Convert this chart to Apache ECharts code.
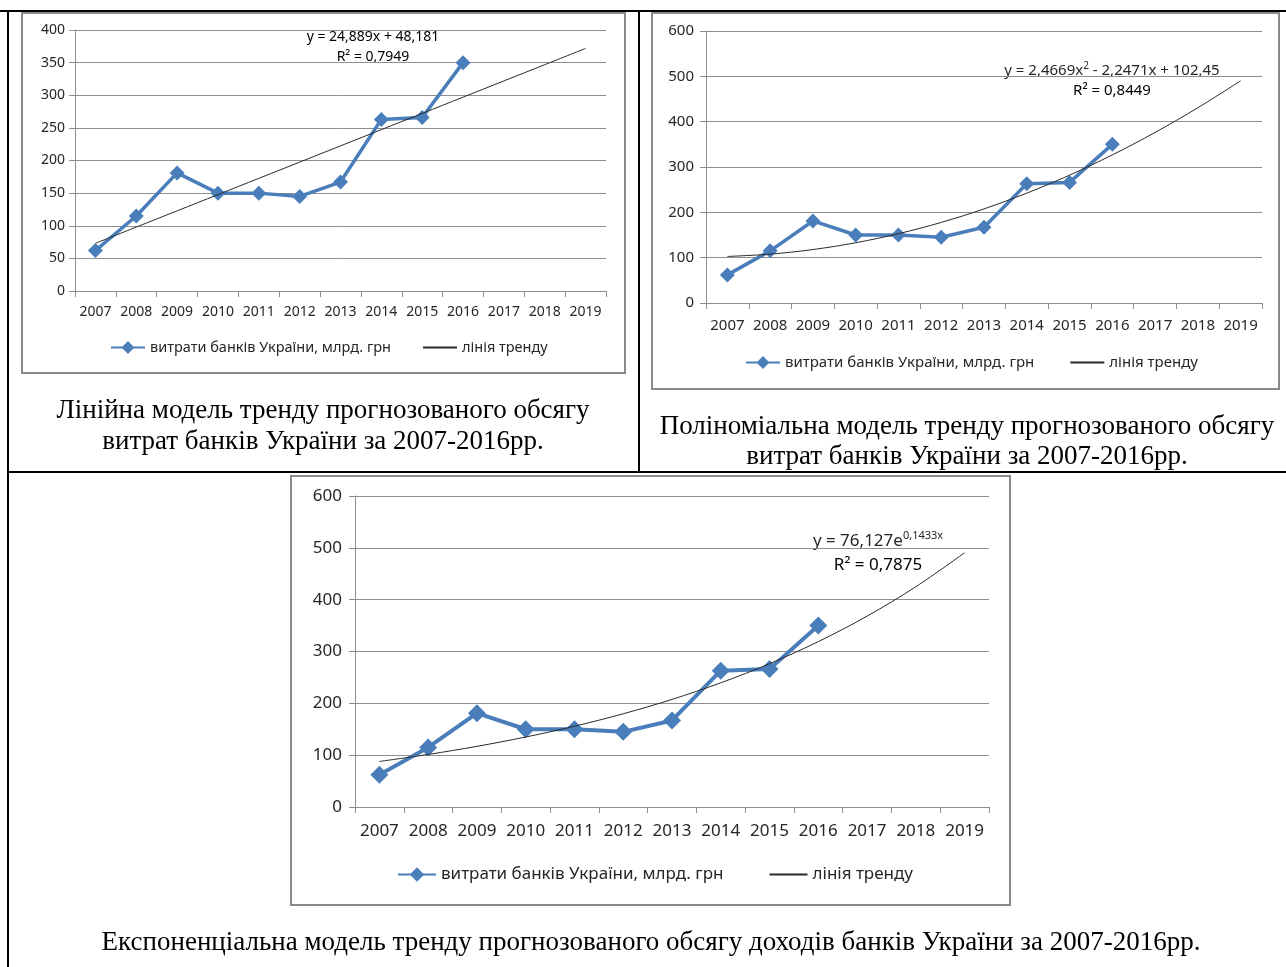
<!DOCTYPE html>
<html>
<head>
<meta charset="utf-8">
<script src="https://cdn.jsdelivr.net/npm/echarts@6/dist/echarts.min.js"></script>
<style>
  html, body { margin: 0; padding: 0; background: #fff; }
  #chart { width: 1286px; height: 967px; }
</style>
</head>
<body>
<div id="chart"></div>
<script>
// Years on the horizontal axis (forecast horizon up to 2019)
const years = ['2007', '2008', '2009', '2010', '2011', '2012', '2013',
               '2014', '2015', '2016', '2017', '2018', '2019'];

// Bank expenses of Ukraine, bn UAH (2007-2016)
const expenses = [62, 115, 181, 150, 150, 145, 167, 263, 266, 350];

// Trend-line coefficients as printed next to each curve (x = 1 for 2007)
const linearCoef = [24.889, 48.181];              // y = a*x + b
const polyCoef = [2.4669, -2.2471, 102.45];       // y = a*x^2 + b*x + c
const expCoef = [76.127, 0.1433];                 // y = a*e^(b*x)

// Axis tick settings
const yTicks1 = { min: 0, max: 400, interval: 50 };
const yTicks23 = { min: 0, max: 600, interval: 100 };

const seriesName = 'витрати банків України, млрд. грн';
const trendName = 'лінія тренду';

const xs = years.map((_, i) => i + 1);
const linearTrend = xs.map(x => +(linearCoef[0] * x + linearCoef[1]).toFixed(2));
const polyTrend = xs.map(x => +(polyCoef[0] * x * x + polyCoef[1] * x + polyCoef[2]).toFixed(2));
const expTrend = xs.map(x => +(expCoef[0] * Math.exp(expCoef[1] * x)).toFixed(2));

const FONT = 'Noto Sans';
const SERIF = 'Liberation Serif';
const BLUE = '#4a7ebb';
const GRID_GREY = '#8e8e8e';
const TEXT = '#262626';

function xAxis(idx, fs, margin) {
  return {
    type: 'category', gridIndex: idx, data: years, boundaryGap: true,
    axisLine: { lineStyle: { color: GRID_GREY, width: 1 } },
    axisTick: { show: true, alignWithLabel: false, interval: 0, length: 6,
                lineStyle: { color: GRID_GREY } },
    axisLabel: { interval: 0, fontFamily: FONT, fontSize: fs, color: TEXT, margin: margin },
    splitLine: { show: false }
  };
}
function yAxis(idx, ticks, fs, margin) {
  return {
    type: 'value', gridIndex: idx, min: ticks.min, max: ticks.max, interval: ticks.interval,
    axisLine: { show: true, lineStyle: { color: GRID_GREY, width: 1 } },
    axisTick: { show: true, length: 6, lineStyle: { color: GRID_GREY } },
    axisLabel: { fontFamily: FONT, fontSize: fs, color: TEXT, margin: margin },
    splitLine: { show: true, lineStyle: { color: GRID_GREY, width: 1 } }
  };
}
function dataSeries(idx, lw, sym) {
  return {
    name: seriesName, type: 'line', xAxisIndex: idx, yAxisIndex: idx,
    data: expenses, symbol: 'diamond', symbolSize: sym,
    lineStyle: { color: BLUE, width: lw }, itemStyle: { color: BLUE },
    z: 3, animation: false
  };
}
function trendSeries(idx, data) {
  return {
    name: trendName, type: 'line', xAxisIndex: idx, yAxisIndex: idx,
    data: data, symbol: 'none', smooth: 0.35,
    lineStyle: { color: '#2a2a2a', width: 1 }, itemStyle: { color: '#2a2a2a' },
    z: 4, animation: false
  };
}
function legend(left, top, fs, iw, ih, gap) {
  return {
    left: left, top: top, padding: 0, itemWidth: iw, itemHeight: ih, itemGap: gap,
    data: [
      { name: seriesName },
      { name: trendName, itemStyle: { opacity: 0 } }
    ],
    selectedMode: false,
    textStyle: { fontFamily: FONT, fontSize: fs, color: TEXT }
  };
}
function textEl(x, y, text, font, size, align) {
  return {
    type: 'text', x: x, y: y, silent: true,
    style: { text: text, fontFamily: font, fontSize: size, fill: '#000',
             align: align || 'center', verticalAlign: 'middle' }
  };
}
function box(x, y, w, h) {
  return { type: 'rect', shape: { x: x, y: y, width: w, height: h }, silent: true,
           style: { fill: null, stroke: '#8a8a8a', lineWidth: 2 } };
}
function rule(x1, y1, x2, y2) {
  return { type: 'line', shape: { x1: x1, y1: y1, x2: x2, y2: y2 }, silent: true,
           style: { stroke: '#000', lineWidth: 2 } };
}

const option = {
  backgroundColor: '#fff',
  animation: false,
  grid: [
    { left: 75, top: 30, width: 531, height: 261 },
    { left: 706, top: 31, width: 556, height: 272 },
    { left: 355, top: 496, width: 634, height: 311 }
  ],
  xAxis: [xAxis(0, 14, 14), xAxis(1, 15, 15), xAxis(2, 17, 16)],
  yAxis: [yAxis(0, yTicks1, 14, 10), yAxis(1, yTicks23, 15, 12), yAxis(2, yTicks23, 17, 13)],
  legend: [
    legend(110, 340, 14.5, 34, 16, 31),
    legend(745, 355, 15, 34, 16, 35),
    legend(397, 866, 17, 38, 18, 45)
  ],
  series: [
    dataSeries(0, 3.5, 15), trendSeries(0, linearTrend),
    dataSeries(1, 3.5, 15), trendSeries(1, polyTrend),
    dataSeries(2, 4, 18), trendSeries(2, expTrend)
  ],
  graphic: [
    // table rules
    rule(0, 11, 1286, 11),
    rule(8, 10, 8, 967),
    rule(639, 11, 639, 472),
    rule(8, 472, 1286, 472),
    // chart frames
    box(22, 13, 603, 360),
    box(652, 13, 627, 376),
    box(291, 476, 719, 429),
    // trend equations
    textEl(373, 37, 'y = 24,889x + 48,181', FONT, 14),
    textEl(373, 57, 'R² = 0,7949', FONT, 14),
    {
      type: 'text', x: 1112, y: 71, silent: true,
      style: {
        text: '{a|y = 2,4669x}{s|2}{a| - 2,2471x + 102,45}',
        align: 'center', verticalAlign: 'middle',
        rich: {
          a: { fontFamily: FONT, fontSize: 15, fill: TEXT, lineHeight: 20 },
          s: { fontFamily: FONT, fontSize: 10, fill: TEXT, verticalAlign: 'top', lineHeight: 20 }
        }
      }
    },
    textEl(1112, 91, 'R² = 0,8449', FONT, 15),
    {
      type: 'text', x: 878, y: 541, silent: true,
      style: {
        text: '{a|y = 76,127e}{s|0,1433x}',
        align: 'center', verticalAlign: 'middle',
        rich: {
          a: { fontFamily: FONT, fontSize: 17, fill: TEXT, lineHeight: 22 },
          s: { fontFamily: FONT, fontSize: 11, fill: TEXT, verticalAlign: 'top', lineHeight: 22 }
        }
      }
    },
    textEl(878, 565, 'R² = 0,7875', FONT, 17),
    // captions
    textEl(323, 411, 'Лінійна модель тренду прогнозованого обсягу', SERIF, 27),
    textEl(323, 442, 'витрат банків України за 2007-2016рр.', SERIF, 27),
    textEl(967, 427, 'Поліноміальна модель тренду прогнозованого обсягу', SERIF, 27),
    textEl(967, 457, 'витрат банків України за 2007-2016рр.', SERIF, 27),
    textEl(651, 943, 'Експоненціальна модель тренду прогнозованого обсягу доходів банків України за 2007-2016рр.', SERIF, 27)
  ]
};

const chart = echarts.init(document.getElementById('chart'), null, { renderer: 'canvas' });
chart.setOption(option);
</script>
</body>
</html>
